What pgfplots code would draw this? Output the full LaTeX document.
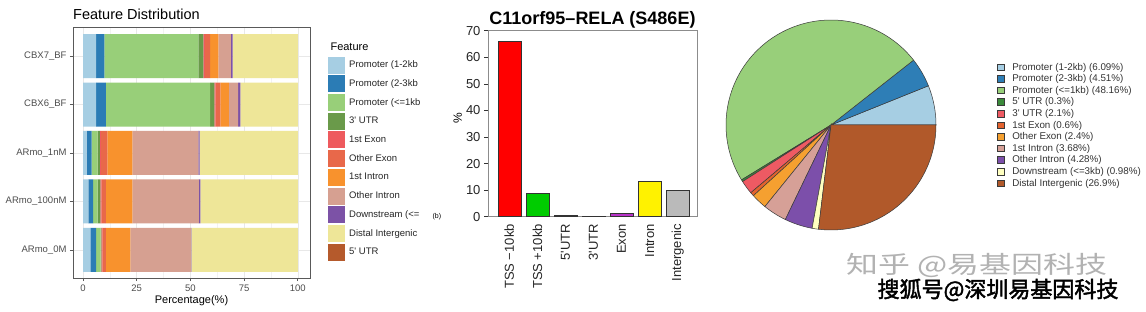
\documentclass[border=0pt]{standalone}
\usepackage{fontspec}
\setmainfont{Liberation Sans}
\newfontfamily\cjk{Noto Sans CJK SC}
\newfontfamily\cjkbold{Noto Sans CJK SC}[FakeBold=2]
\usepackage{pgfplots}
\usepackage{pgfplotstable}
\pgfplotsset{compat=1.18}

% left panel colours
\definecolor{fA}{HTML}{A6CEE3}
\definecolor{fB}{HTML}{2B7CB5}
\definecolor{fC}{HTML}{98CF79}
\definecolor{fD}{HTML}{6A9A4A}
\definecolor{fE}{HTML}{EE5A5E}
\definecolor{fF}{HTML}{E8684A}
\definecolor{fG}{HTML}{F8922D}
\definecolor{fH}{HTML}{D6A091}
\definecolor{fI}{HTML}{7C52A6}
\definecolor{fJ}{HTML}{EEE698}
\definecolor{fK}{HTML}{B55A2C}
% pie colours
\definecolor{pA}{HTML}{A6CEE3}
\definecolor{pB}{HTML}{2E7EB6}
\definecolor{pC}{HTML}{98CF7A}
\definecolor{pD}{HTML}{3B8A3B}
\definecolor{pE}{HTML}{EE5A63}
\definecolor{pF}{HTML}{E3622E}
\definecolor{pG}{HTML}{F5A030}
\definecolor{pH}{HTML}{D6A097}
\definecolor{pI}{HTML}{7C4FAA}
\definecolor{pJ}{HTML}{FFFFC0}
\definecolor{pK}{HTML}{B1592A}
\definecolor{pedge}{HTML}{3A3A3A}
\definecolor{ggtxt}{HTML}{4D4D4D}
\definecolor{exon}{HTML}{B833C8}

\pgfplotstableread{
cat p12 p23 p1 u3 e1 oe i1 oi dn di
0 3.4 2.7 2.1 0.3 0.5 1.7 11.3 28.2 0.3 49.5
1 2.5 2.2 2.1 1.3 0.5 2.1 12.3 30.9 0.8 45.3
2 1.7 2.3 2.8 1.0 0.5 3.0 11.7 30.7 0.6 45.7
3 6.1 4.6 48.5 2.0 0.6 2.2 3.9 4.3 1.1 26.7
4 6.1 3.8 43.8 2.4 0.7 2.4 3.8 5.8 0.9 30.3
}\featdata

\begin{document}
\begin{tikzpicture}
\path[use as bounding box, fill=white] (0pt,0pt) rectangle (1146pt,-312pt);

% ---------------- left panel ----------------
\begin{scope}
\clip (0pt,0pt) rectangle (421pt,-312pt);
\begin{axis}[
  at={(73pt,-27pt)}, anchor=north west, scale only axis,
  width=237pt, height=251pt,
  xbar stacked, bar width=44pt,
  xmin=-4.66, xmax=105.7, ymin=-0.58, ymax=4.6,
  ytick={0,1,2,3,4},
  yticklabels={ARmo\_0M,ARmo\_100nM,ARmo\_1nM,CBX6\_BF,CBX7\_BF},
  xtick={0,25,50,75,100}, minor xtick={12.5,37.5,62.5,87.5},
  xtick pos=bottom, ytick pos=left,
  xmajorgrids, xminorgrids, ymajorgrids,
  major grid style={black!9, line width=0.5pt},
  minor grid style={black!5, line width=0.4pt},
  axis line style={black!65, line width=0.8pt},
  tick style={black!65, line width=0.6pt},
  tick align=outside, major tick length=3pt, minor tick length=0pt,
  ticklabel style={font=\fontsize{9.5}{9.5}\selectfont, text=ggtxt},
  /pgf/number format/assume math mode=true,
  xlabel={Percentage(\%)},
  xlabel style={font=\fontsize{11}{11}\selectfont, text=black, yshift=3pt},
  title={Feature Distribution},
  title style={at={(0,1)}, anchor=base west, inner xsep=0pt, yshift=1pt, font=\fontsize{14.5}{14.5}\selectfont},
  legend image code/.code={\fill[#1,draw=none] (0pt,-8.5pt) rectangle (17pt,8.5pt);},
  legend style={at={(1.0759,0.8825)}, anchor=north west, draw=none, fill=none,
    inner sep=0pt, row sep=1.7pt, column sep=2pt,
    font=\fontsize{9.5}{9.5}\selectfont, text=black!85},
  legend cell align=left,
]
\addplot[fill=fA, draw=none] table[x=p12, y=cat] {\featdata};
\addlegendentry{Promoter (1-2kb}
\addplot[fill=fB, draw=none] table[x=p23, y=cat] {\featdata};
\addlegendentry{Promoter (2-3kb}
\addplot[fill=fC, draw=none] table[x=p1, y=cat] {\featdata};
\addlegendentry{Promoter (<=1kb}
\addplot[fill=fD, draw=none] table[x=u3, y=cat] {\featdata};
\addlegendentry{3\textquotesingle\ UTR}
\addplot[fill=fE, draw=none] table[x=e1, y=cat] {\featdata};
\addlegendentry{1st Exon}
\addplot[fill=fF, draw=none] table[x=oe, y=cat] {\featdata};
\addlegendentry{Other Exon}
\addplot[fill=fG, draw=none] table[x=i1, y=cat] {\featdata};
\addlegendentry{1st Intron}
\addplot[fill=fH, draw=none] table[x=oi, y=cat] {\featdata};
\addlegendentry{Other Intron}
\addplot[fill=fI, draw=none] table[x=dn, y=cat] {\featdata};
\addlegendentry{Downstream (<=}
\addplot[fill=fJ, draw=none] table[x=di, y=cat] {\featdata};
\addlegendentry{Distal Intergenic}
\addlegendimage{fill=fK, draw=none}
\addlegendentry{5\textquotesingle\ UTR}
\end{axis}
\end{scope}
\node[anchor=base west, font=\fontsize{11}{11}\selectfont] at (327pt,-51pt) {Feature};

% ---------------- middle panel ----------------
\begin{axis}[
  at={(488pt,-30.7pt)}, anchor=north west, scale only axis,
  width=209pt, height=186pt,
  ybar, bar width=23pt, bar shift=0pt,
  xmin=0.24, xmax=7.69, ymin=0, ymax=70,
  ytick={0,10,...,70},
  xtick={1,...,7},
  ytick pos=left, xtick pos=bottom,
  xticklabels={TSS −10kb,TSS +10kb,5\textquotesingle UTR,3\textquotesingle UTR,Exon,Intron,Intergenic},
  axis line style={black!45, line width=0.6pt},
  ytick style={black!80, line width=0.6pt},
  xtick style={draw=none},
  tick align=outside, major tick length=4pt,
  ticklabel style={font=\fontsize{13}{13}\selectfont, text=black!85},
  xticklabel style={rotate=90, anchor=east},
  /pgf/number format/assume math mode=true,
  ylabel={\%},
  ylabel style={at={(axis description cs:-0.145,0.53)}, anchor=center, font=\fontsize{12}{12}\selectfont},
  title={\bfseries C11orf95–RELA (S486E)},
  title style={at={(0.5,1)}, anchor=base, yshift=0pt, font=\fontsize{18}{18}\selectfont},
]
\addplot[fill=red, draw=black!80, line width=0.5pt] coordinates {(1,66.2)};
\addplot[fill=green!80!black, draw=black!80, line width=0.5pt] coordinates {(2,9.0)};
\addplot[fill=blue!50!black, draw=black!80, line width=0.5pt] coordinates {(3,0.7)};
\addplot[fill=violet!60!black, draw=black!80, line width=0.5pt] coordinates {(4,0.2)};
\addplot[fill=exon, draw=black!80, line width=0.5pt] coordinates {(5,1.3)};
\addplot[fill=yellow, draw=black!80, line width=0.5pt] coordinates {(6,13.2)};
\addplot[fill=black!27, draw=black!80, line width=0.5pt] coordinates {(7,9.8)};
\end{axis}
\node[anchor=west, font=\fontsize{7}{7}\selectfont] at (429pt,-217pt) {(b)};

% ---------------- pie panel ----------------
\begin{axis}[
  at={(831pt,-125pt)}, anchor=center, scale only axis,
  width=210pt, height=210pt,
  xmin=-1, xmax=1, ymin=-1, ymax=1,
  hide axis, clip=false,
  legend image code/.code={\draw[#1, line width=0.5pt] (0pt,-3.3pt) rectangle (6.6pt,3.3pt);},
  legend style={at={(1.2905,0.8038)}, anchor=north west, draw=none, fill=none,
    inner sep=0pt, row sep=0pt, column sep=6pt,
    nodes={inner xsep=2pt, inner ysep=1.5pt},
    font=\fontsize{9.8}{9.8}\selectfont, text=black!80},
  legend cell align=left,
]
\addplot[fill=pA, draw=pedge, line width=0.5pt, domain=0:21.924, samples=12, variable=\t] ({cos(\t)},{sin(\t)}) -- (axis cs:0,0) -- cycle;
\addlegendentry{Promoter (1-2kb) (6.09\%)}
\addplot[fill=pB, draw=pedge, line width=0.5pt, domain=21.924:38.16, samples=10, variable=\t] ({cos(\t)},{sin(\t)}) -- (axis cs:0,0) -- cycle;
\addlegendentry{Promoter (2-3kb) (4.51\%)}
\addplot[fill=pC, draw=pedge, line width=0.5pt, domain=38.16:211.536, samples=80, variable=\t] ({cos(\t)},{sin(\t)}) -- (axis cs:0,0) -- cycle;
\addlegendentry{Promoter (<=1kb) (48.16\%)}
\addplot[fill=pD, draw=pedge, line width=0.5pt, domain=211.536:212.616, samples=2, variable=\t] ({cos(\t)},{sin(\t)}) -- (axis cs:0,0) -- cycle;
\addlegendentry{5\textquotesingle\ UTR (0.3\%)}
\addplot[fill=pE, draw=pedge, line width=0.5pt, domain=212.616:220.176, samples=5, variable=\t] ({cos(\t)},{sin(\t)}) -- (axis cs:0,0) -- cycle;
\addlegendentry{3\textquotesingle\ UTR (2.1\%)}
\addplot[fill=pF, draw=pedge, line width=0.5pt, domain=220.176:222.336, samples=3, variable=\t] ({cos(\t)},{sin(\t)}) -- (axis cs:0,0) -- cycle;
\addlegendentry{1st Exon (0.6\%)}
\addplot[fill=pG, draw=pedge, line width=0.5pt, domain=222.336:230.976, samples=6, variable=\t] ({cos(\t)},{sin(\t)}) -- (axis cs:0,0) -- cycle;
\addlegendentry{Other Exon (2.4\%)}
\addplot[fill=pH, draw=pedge, line width=0.5pt, domain=230.976:244.224, samples=8, variable=\t] ({cos(\t)},{sin(\t)}) -- (axis cs:0,0) -- cycle;
\addlegendentry{1st Intron (3.68\%)}
\addplot[fill=pI, draw=pedge, line width=0.5pt, domain=244.224:259.632, samples=9, variable=\t] ({cos(\t)},{sin(\t)}) -- (axis cs:0,0) -- cycle;
\addlegendentry{Other Intron (4.28\%)}
\addplot[fill=pJ, draw=pedge, line width=0.5pt, domain=259.632:263.16, samples=3, variable=\t] ({cos(\t)},{sin(\t)}) -- (axis cs:0,0) -- cycle;
\addlegendentry{Downstream (<=3kb) (0.98\%)}
\addplot[fill=pK, draw=pedge, line width=0.5pt, domain=263.16:360, samples=45, variable=\t] ({cos(\t)},{sin(\t)}) -- (axis cs:0,0) -- cycle;
\addlegendentry{Distal Intergenic (26.9\%)}
\end{axis}

% watermarks
\node[font=\cjk\fontsize{24}{24}\selectfont, text=black!30, xscale=1.33] at (977pt,-265pt) {知乎 @易基因科技};
\node[font=\cjkbold\fontsize{22}{22}\selectfont, text=black] at (998pt,-290pt) {搜狐号@深圳易基因科技};
\end{tikzpicture}
\end{document}
